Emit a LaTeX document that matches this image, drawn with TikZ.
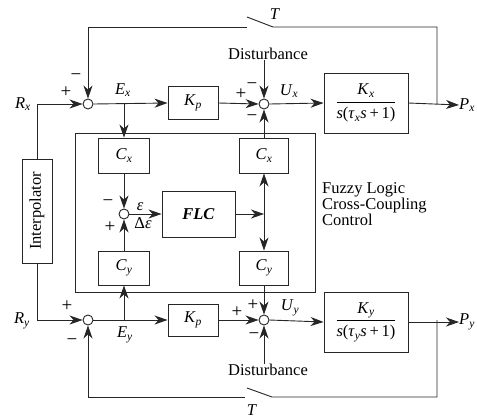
\documentclass[tikz,border=0pt]{standalone}
\usepackage{fontspec}
\setmainfont{Liberation Serif}
\usetikzlibrary{arrows.meta}
\newcommand{\vr}[2]{\textit{#1}\textsubscript{\textit{#2}}}
\begin{document}
\begin{tikzpicture}[x=1pt,y=-1pt,
  font=\fontsize{16.5}{16}\selectfont,
  line/.style={draw=black!85, line width=0.9pt},
  arr/.style={line, -{Stealth[length=13pt,width=9pt,inset=4pt]}},
  blk/.style={draw=black!85, line width=0.9pt, inner sep=0pt, fill=white},
  sumc/.style={circle, draw=black!85, line width=0.9pt, minimum size=10pt, inner sep=0pt, fill=white},
  sgn/.style={inner sep=0pt, font=\fontsize{19}{19}\selectfont},
  lbl/.style={inner sep=0pt}]
\useasboundingbox (0,0) rectangle (477,418);

% inner cross-coupling frame
\node[draw=black!85, line width=0.9pt, minimum width=240pt, minimum height=159pt, inner sep=0pt] (inner) at (195,212.5) {};

% summing junctions
\node[sumc] (s1) at (88,104) {};
\node[sumc] (s2) at (264,104) {};
\node[sumc] (s3) at (88,320) {};
\node[sumc] (s4) at (264,320) {};
\node[sumc] (s5) at (124,214) {};

% blocks
\node[blk, minimum width=30pt, minimum height=104pt] (interp) at (37,211) {\rotatebox{90}{Interpolator}};
\node[blk, minimum width=50pt, minimum height=33pt] (kp1) at (193,103) {\vr Kp};
\node[blk, minimum width=50pt, minimum height=32pt] (kp2) at (193,320) {\vr Kp};
\node[blk, minimum width=84pt, minimum height=60pt] (pl1) at (366,103)
  {$\displaystyle\frac{\mbox{\vr Kx}}{\mbox{\textit{s}(\textit{τ}\textsubscript{\textit{x}}\textit{s}\,+\,1)}}$};
\node[blk, minimum width=84pt, minimum height=60pt] (pl2) at (366,322)
  {$\displaystyle\frac{\mbox{\vr Ky}}{\mbox{\textit{s}(\textit{τ}\textsubscript{\textit{y}}\textit{s}\,+\,1)}}$};
\node[blk, minimum width=51pt, minimum height=35pt] (cx1) at (124,155.5) {\vr Cx};
\node[blk, minimum width=51pt, minimum height=34pt] (cy1) at (124,268) {\vr Cy};
\node[blk, minimum width=49pt, minimum height=35pt] (cx2) at (264,155.5) {\vr Cx};
\node[blk, minimum width=49pt, minimum height=34pt] (cy2) at (264,268) {\vr Cy};
\node[blk, minimum width=73pt, minimum height=46pt] (flc) at (198.5,214) {\textbf{\textit{FLC}}};

% text labels
\node[lbl] (rx) at (23,104) {\vr Rx};
\node[lbl] (ry) at (22,321) {\vr Ry};
\node[lbl, anchor=west] (px) at (459,105) {\vr Px};
\node[lbl, anchor=west] (py) at (459,322) {\vr Py};
\node[lbl] (exl) at (123,90) {\vr Ex};
\node[lbl] (eyl) at (125,335) {\vr Ey};
\node[lbl] (uxl) at (289,91) {\vr Ux};
\node[lbl] (uyl) at (290,308) {\vr Uy};
\node[lbl] (d1) at (268,54) {Disturbance};
\node[lbl] (d2) at (268,370) {Disturbance};
\node[lbl] (t1) at (275,14) {\textit{T}};
\node[lbl] (t2) at (252,410) {\textit{T}};
\node[lbl] (eps) at (140,207) {\textit{ε}};
\node[lbl] (deps) at (143,223) {Δ\textit{ε}};
\node[lbl, anchor=north west, align=left] (fuzzy) at (322,182) {Fuzzy Logic\\Cross-Coupling\\Control};

% signs
\node[sgn] at (66,92) {+};
\node[sgn] at (76,77) {−};
\node[sgn] at (241,94) {+};
\node[sgn] at (252,86) {−};
\node[sgn] at (252,118) {−};
\node[sgn] at (67,306) {+};
\node[sgn] at (72,342) {−};
\node[sgn] at (237,312) {+};
\node[sgn] at (253,305) {+};
\node[sgn] at (254,336) {−};
\node[sgn] at (108,203) {−};
\node[sgn] at (110,227) {+};

% coordinates
\coordinate (ex) at (124,104);
\coordinate (ey) at (124,320);
\coordinate (j) at (264,214);
\coordinate (bx) at (437,104);
\coordinate (tr) at (437,27);
\coordinate (swa) at (273,27);
\coordinate (swb) at (247,17);
\coordinate (swc) at (247,27);
\coordinate (tl) at (88,27);
\coordinate (by) at (437,320);
\coordinate (br) at (437,397);
\coordinate (swd) at (272,397);
\coordinate (swe) at (247,388);
\coordinate (swf) at (245,397);
\coordinate (bl) at (88,397);

% x channel
\draw[arr] (interp.north) |- (s1.west);
\draw[arr] (s1.east) -- (kp1.west);
\draw[arr] (kp1.east) -- (s2.west);
\draw[arr] (d1.south -| s2) -- (s2.north);
\draw[arr] (s2.east) -- (pl1.west);
\draw[arr] (pl1.east) -- (px.west);
\draw[line] (bx) -- (tr) -- (swa) -- (swb);
\draw[arr] (swc) -- (tl) -- (s1.north);

% y channel
\draw[arr] (interp.south) |- (s3.west);
\draw[arr] (s3.east) -- (kp2.west);
\draw[arr] (kp2.east) -- (s4.west);
\draw[arr] (d2.north -| s4) -- (s4.south);
\draw[arr] (s4.east) -- (pl2.west);
\draw[arr] (pl2.east |- py.west) -- (py.west);
\draw[line] (by) -- (br) -- (swd) -- (swe);
\draw[arr] (swf) -- (bl) -- (s3.south);

% cross coupling
\draw[arr] (ex) -- (cx1.north);
\draw[arr] (ey) -- (cy1.south);
\draw[arr] (cx1.south) -- (s5.north);
\draw[arr] (cy1.north) -- (s5.south);
\draw[arr] (s5.east) -- (flc.west);
\draw[arr] (flc.east) -- (j);
\draw[arr] (j) -- (cx2.south);
\draw[arr] (j) -- (cy2.north);
\draw[arr] (cx2.north) -- (s2.south);
\draw[arr] (cy2.south) -- (s4.north);
\end{tikzpicture}
\end{document}
